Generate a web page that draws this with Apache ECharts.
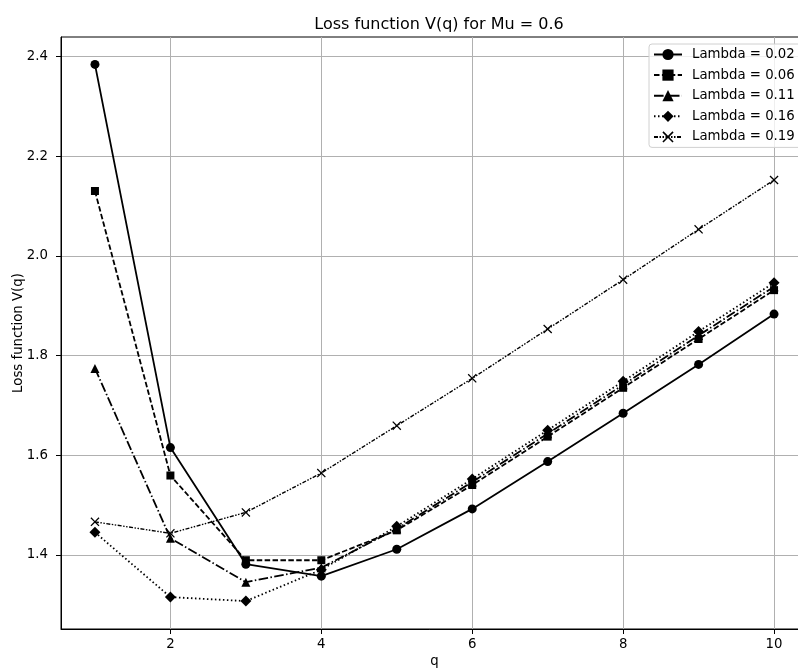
<!DOCTYPE html>
<html>
<head>
<meta charset="utf-8">
<script src="https://cdn.jsdelivr.net/npm/echarts@6/dist/echarts.min.js"></script>
<style>
html,body{margin:0;padding:0;background:#fff;}
#chart{width:798px;height:671px;}
</style>
</head>
<body>
<div id="chart"></div>
<script>
const qValues = [1, 2, 3, 4, 5, 6, 7, 8, 9, 10];
const lambda002 = [2.384, 1.615, 1.381, 1.357, 1.411, 1.492, 1.587, 1.684, 1.782, 1.883];
const lambda006 = [2.130, 1.559, 1.389, 1.389, 1.449, 1.540, 1.637, 1.735, 1.833, 1.931];
const lambda011 = [1.774, 1.433, 1.345, 1.374, 1.452, 1.546, 1.643, 1.741, 1.840, 1.938];
const lambda016 = [1.445, 1.315, 1.307, 1.370, 1.457, 1.552, 1.650, 1.748, 1.848, 1.946];
const lambda019 = [1.466, 1.443, 1.485, 1.564, 1.659, 1.754, 1.853, 1.952, 2.053, 2.152];
const seriesNames = ['Lambda = 0.02', 'Lambda = 0.06', 'Lambda = 0.11', 'Lambda = 0.16', 'Lambda = 0.19'];
const xTicks = [2, 4, 6, 8, 10];
const yTicks = [1.4, 1.6, 1.8, 2.0, 2.2, 2.4];

const FONT = 'DejaVu Sans';
const xPath = 'path://M1,0 L5,4 L9,0 L10,1 L6,5 L10,9 L9,10 L5,6 L1,10 L0,9 L4,5 L0,1 Z';

function pairs(vals) { return qValues.map((q, i) => [q, vals[i]]); }

const styles = [
  { data: lambda002, symbol: 'circle', size: 9, type: 'solid', width: 1.8 },
  { data: lambda006, symbol: 'rect', size: 8, type: [5.5, 2.4], width: 1.8 },
  { data: lambda011, symbol: 'triangle', size: 9, type: [9.6, 2.4, 1.5, 2.4], width: 1.8 },
  { data: lambda016, symbol: 'diamond', size: 11, type: [1.5, 2.5], width: 1.8 },
  { data: lambda019, symbol: xPath, size: 9, type: [4, 1.5, 1.5, 1.5, 1.5, 1.5], width: 1.4 }
];

const chart = echarts.init(document.getElementById('chart'), null, { renderer: 'canvas' });
chart.setOption({
  animation: false,
  backgroundColor: '#fff',
  title: {
    text: 'Loss function V(q) for Mu = 0.6',
    left: 434, top: 12, textAlign: 'center',
    textStyle: { fontFamily: FONT, fontSize: 16, fontWeight: 'normal', color: '#000' }
  },
  grid: {
    left: 61, width: 747, top: 37, height: 592,
    containLabel: false, outerBoundsMode: 'none',
    show: true, borderColor: '#000', borderWidth: 1, backgroundColor: 'transparent'
  },
  legend: {
    orient: 'vertical',
    left: 649, top: 44,
    padding: [4, 8, 4, 4],
    itemWidth: 28, itemHeight: 14, itemGap: 7.6,
    backgroundColor: 'rgba(255,255,255,0.8)',
    borderColor: '#d0d0d0', borderWidth: 1, borderRadius: 3,
    textStyle: { fontFamily: FONT, fontSize: 13.3, color: '#000', padding: [0, 0, 0, 5] },
    data: seriesNames
  },
  xAxis: {
    type: 'value', min: 0.55, max: 10.45,
    name: 'q', nameLocation: 'middle', nameGap: 26, nameMoveOverlap: false,
    nameTextStyle: { fontFamily: FONT, fontSize: 13.3, color: '#000' },
    axisLine: { show: true, lineStyle: { color: '#000', width: 1 } },
    axisTick: { show: true, length: 5, customValues: xTicks, lineStyle: { color: '#000' } },
    axisLabel: { customValues: xTicks, fontFamily: FONT, fontSize: 13.3, color: '#000', margin: 9 },
    splitLine: { show: true, lineStyle: { color: '#b0b0b0', width: 1 } }
  },
  yAxis: {
    type: 'value', min: 1.251, max: 2.439,
    name: 'Loss function V(q)', nameLocation: 'middle', nameGap: 36, nameRotate: 90,
    nameMoveOverlap: false,
    nameTextStyle: { fontFamily: FONT, fontSize: 13.3, color: '#000' },
    axisLine: { show: true, lineStyle: { color: '#000', width: 1 } },
    axisTick: { show: true, length: 5, customValues: yTicks, lineStyle: { color: '#000' } },
    axisLabel: {
      customValues: yTicks, fontFamily: FONT, fontSize: 13.3, color: '#000', margin: 13,
      formatter: v => v.toFixed(1)
    },
    splitLine: { show: true, lineStyle: { color: '#b0b0b0', width: 1 } }
  },
  series: styles.map((s, i) => ({
    name: seriesNames[i],
    type: 'line',
    data: pairs(s.data),
    symbol: s.symbol,
    symbolSize: s.size,
    showAllSymbol: true,
    color: '#000',
    itemStyle: { color: '#000' },
    lineStyle: { color: '#000', width: s.width, type: s.type },
    z: 2 + i
  }))
});
</script>
</body>
</html>
